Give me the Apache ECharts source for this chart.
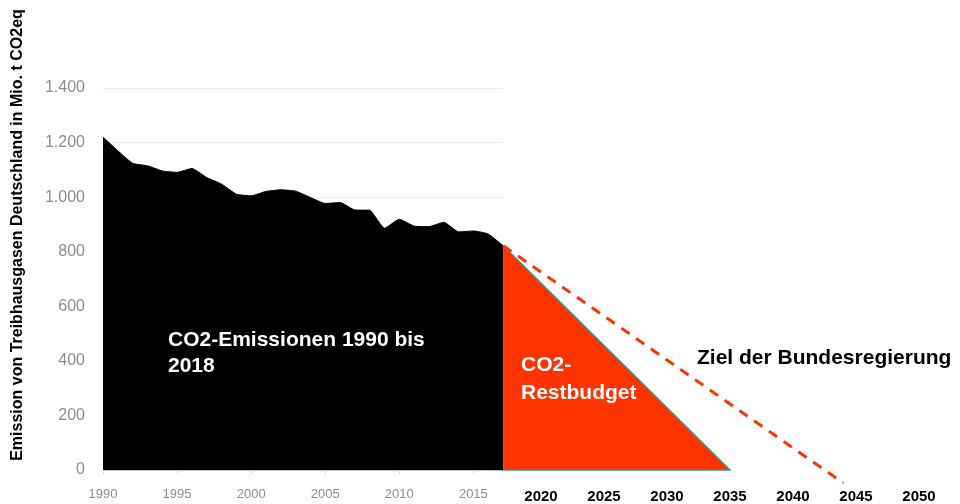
<!DOCTYPE html>
<html>
<head>
<meta charset="utf-8">
<script src="https://cdn.jsdelivr.net/npm/echarts@6/dist/echarts.min.js"></script>
<style>
  html, body { margin: 0; padding: 0; background: #fff; }
  #chart { width: 960px; height: 504px; }
</style>
</head>
<body>
<div id="chart"></div>
<script>
// Emissionen 1990 - 2017 (Mio. t CO2eq)
const years = [1990, 1991, 1992, 1993, 1994, 1995, 1996, 1997, 1998, 1999,
  2000, 2001, 2002, 2003, 2004, 2005, 2006, 2007, 2008, 2009,
  2010, 2011, 2012, 2013, 2014, 2015, 2016, 2017]
const emissions = [1220, 1170, 1124, 1115, 1096, 1091, 1105, 1072, 1048, 1011,
  1005, 1021, 1027, 1022, 999, 977, 980, 953, 952, 886,
  919, 894, 892, 908, 873, 876, 865, 822]

// Restbudget-Dreieck: Start, Ende
const budgetYears = [2017, 2035]
const budgetLevels = [822, 0]

// Ziel der Bundesregierung (gestrichelt)
const targetYears = [2017, 2044]
const targetValues = [822, -48]

const yTicks = { min: 0, max: 1400, step: 200 }

const chart = echarts.init(document.getElementById('chart'))

const fmtDE = v => String(v).replace(/\B(?=(\d{3})+(?!\d))/g, '.')
const fmtYear = v => String(v)

chart.setOption({
  animation: false,
  grid: [
    { left: 103, right: 457, top: 88, bottom: 34 }, // historische Daten
    { left: 478, right: 41, top: 88, bottom: 34 }   // Zukunft
  ],
  xAxis: [
    {
      gridIndex: 0,
      type: 'value',
      min: 1990,
      max: 2017,
      interval: 5,
      axisLine: { lineStyle: { color: '#bfbfbf', width: 1 } },
      axisTick: { show: true, length: 4, lineStyle: { color: '#d9d9d9' } },
      splitLine: { show: false },
      axisLabel: {
        formatter: fmtYear,
        showMaxLabel: false,
        color: '#8c8c8c',
        fontFamily: 'Liberation Sans',
        fontSize: 13,
        margin: 18
      }
    },
    {
      gridIndex: 1,
      type: 'value',
      min: 2015,
      max: 2050,
      interval: 5,
      axisLine: { show: false },
      axisTick: { show: false },
      splitLine: { show: false },
      axisLabel: {
        formatter: fmtYear,
        showMinLabel: false,
        color: '#000',
        fontWeight: 'bold',
        fontFamily: 'Liberation Sans',
        fontSize: 15,
        margin: 19
      }
    }
  ],
  yAxis: [
    {
      gridIndex: 0,
      type: 'value',
      min: yTicks.min,
      max: yTicks.max,
      interval: yTicks.step,
      axisLine: { show: false },
      axisTick: { show: false },
      splitLine: { lineStyle: { color: '#ececec', width: 1 } },
      axisLabel: {
        formatter: fmtDE,
        color: '#8c8c8c',
        fontFamily: 'Liberation Sans',
        fontSize: 16,
        margin: 18
      }
    },
    {
      gridIndex: 1,
      type: 'value',
      min: yTicks.min,
      max: yTicks.max,
      show: false,
      splitLine: { show: false }
    }
  ],
  graphic: [
    {
      type: 'text',
      x: 18,
      y: 235,
      rotation: Math.PI / 2,
      style: {
        text: 'Emission von Treibhausgasen Deutschland in Mio. t CO2eq',
        fill: '#000',
        font: 'bold 16px "Liberation Sans"',
        textAlign: 'center',
        textVerticalAlign: 'middle'
      }
    },
    {
      type: 'text',
      x: 168,
      y: 353,
      z: 100,
      style: {
        text: 'CO2-Emissionen 1990 bis\n2018',
        fill: '#fff',
        font: 'bold 21px "Liberation Sans"',
        lineHeight: 26,
        textVerticalAlign: 'middle'
      }
    },
    {
      type: 'text',
      x: 521,
      y: 379,
      z: 100,
      style: {
        text: 'CO2-\nRestbudget',
        fill: '#fff',
        font: 'bold 21px "Liberation Sans"',
        lineHeight: 28,
        textVerticalAlign: 'middle'
      }
    },
    {
      type: 'text',
      x: 697,
      y: 358,
      z: 100,
      style: {
        text: 'Ziel der Bundesregierung',
        fill: '#000',
        font: 'bold 21px "Liberation Sans"',
        textVerticalAlign: 'middle'
      }
    }
  ],
  series: [
    {
      name: 'Emissionen',
      type: 'line',
      xAxisIndex: 0,
      yAxisIndex: 0,
      data: years.map((y, i) => [y, emissions[i]]),
      smooth: 0.15,
      showSymbol: false,
      lineStyle: { color: '#000', width: 1 },
      areaStyle: { color: '#000', opacity: 1 }
    },
    {
      name: 'Restbudget',
      type: 'custom',
      xAxisIndex: 1,
      yAxisIndex: 1,
      data: [[budgetYears[0], budgetLevels[0], budgetYears[1], budgetLevels[1]]],
      renderItem: function (params, api) {
        const p0 = api.coord([api.value(0), api.value(3)])
        const p1 = api.coord([api.value(0), api.value(1)])
        const p2 = api.coord([api.value(2), api.value(3)])
        return {
          type: 'polygon',
          shape: { points: [p0, p1, p2] },
          style: { fill: '#ff3300', stroke: '#2e9e85', lineWidth: 1.5 }
        }
      }
    },
    {
      name: 'Ziel',
      type: 'line',
      xAxisIndex: 1,
      yAxisIndex: 1,
      clip: false,
      z: 5,
      data: targetYears.map((y, i) => [y, targetValues[i]]),
      showSymbol: false,
      lineStyle: { color: '#ff3300', width: 3, type: [10, 8] }
    }
  ]
})
</script>
</body>
</html>
